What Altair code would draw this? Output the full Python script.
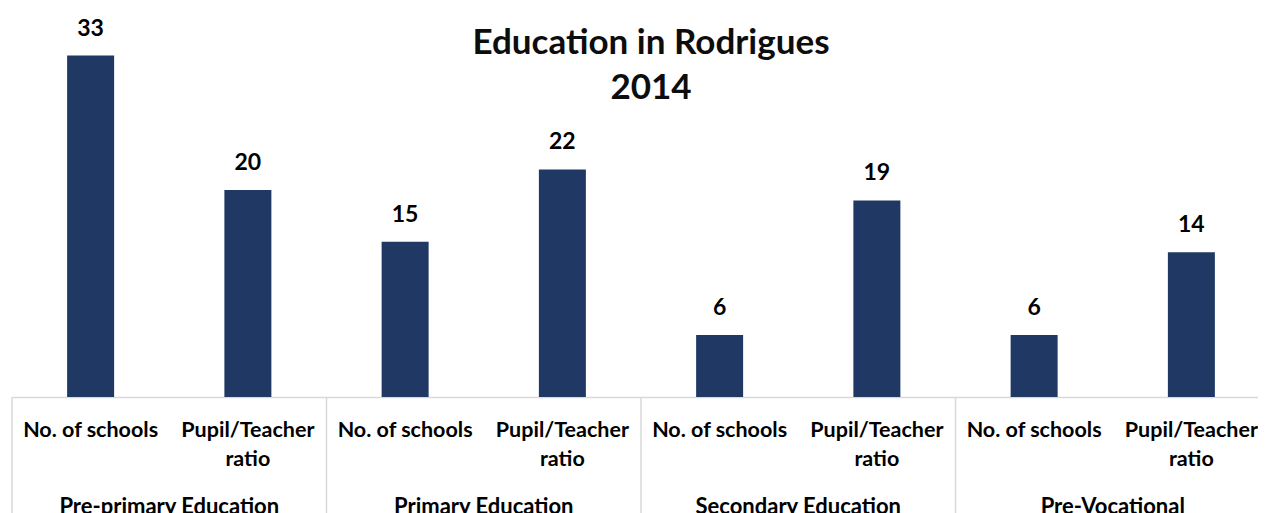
import altair as alt
import pandas as pd

groups = ["Pre-primary Education", "Primary Education", "Secondary Education", "Pre-Vocational"]
measures = ["No. of schools", "Pupil/Teacher\nratio"]
values = [33, 20, 15, 22, 6, 19, 6, 14]
title_lines = ["Education in Rodrigues", "2014"]

rows = []
i = 0
for g in groups:
    for m in measures:
        rows.append({"key": f"{g} | {m}", "group": g, "measure": m, "value": values[i]})
        i += 1
df = pd.DataFrame(rows)

bounds = pd.DataFrame({"pos": [0, 1, 2, 3, 4]})
glabels = pd.DataFrame({"pos": [0.5, 1.5, 2.5, 3.5], "label": groups})
tdf = pd.DataFrame({"pos": [2.0], "label": ["\n".join(title_lines)]})

SPAN = 1258          # full axis span (extends past the window edge)
W, H = 1246, 389     # visible plot area
FONT = "Lato"
BAR = "#203864"
GRID = "#d9d9d9"
PI = 1 - 47 / (SPAN / 8)

xband = alt.X("key:N", sort=None,
              scale=alt.Scale(paddingInner=PI, paddingOuter=PI / 2, range=[0, SPAN]),
              axis=alt.Axis(labels=False, ticks=False, title=None, grid=False,
                            domainColor=GRID, domainWidth=1.5))
yscale = alt.Y("value:Q", scale=alt.Scale(domain=[0, 37.6], nice=False, zero=True), axis=None)

base = alt.Chart(df)
bars = base.mark_bar(color=BAR).encode(x=xband, y=yscale)
vals = base.mark_text(font=FONT, fontSize=23, fontWeight="bold", color="#000000",
                      baseline="alphabetic", dy=-20).encode(
    x=alt.X("key:N", sort=None), y=alt.Y("value:Q"), text="value:Q")
subl = base.mark_text(font=FONT, fontSize=21.5, fontWeight="bold", color="#000000",
                      baseline="alphabetic", lineBreak="\n", lineHeight=29).encode(
    x=alt.X("key:N", sort=None), y=alt.value(429), text="measure:N")

layerA = alt.layer(bars, vals, subl)

xq = alt.X("pos:Q", scale=alt.Scale(domain=[0, 4], range=[0, SPAN], nice=False, zero=False), axis=None)
seps = alt.Chart(bounds).mark_rule(color=GRID, strokeWidth=1.5).encode(
    x=xq, y=alt.value(H), y2=alt.value(H + 140))
glab = alt.Chart(glabels).mark_text(font=FONT, fontSize=22, fontWeight="bold",
                                    color="#000000", baseline="alphabetic").encode(
    x=xq, y=alt.value(506), text="label:N")
ttl = alt.Chart(tdf).mark_text(font=FONT, fontSize=35, fontWeight="bold", color="#0d0d0d",
                               baseline="alphabetic", lineBreak="\n", lineHeight=45, dx=10).encode(
    x=xq, y=alt.value(46), text="label:N")

layerB = alt.layer(seps, glab, ttl)

chart = alt.layer(layerA, layerB).resolve_scale(x="independent").properties(
    width=W, height=H,
    autosize=alt.AutoSizeParams(type="none"),
    padding={"left": 4, "top": 0, "right": 0, "bottom": 116},
).configure_view(stroke=None, clip=False)

chart.save("out.html", embed_options={"renderer": "svg", "actions": False})
